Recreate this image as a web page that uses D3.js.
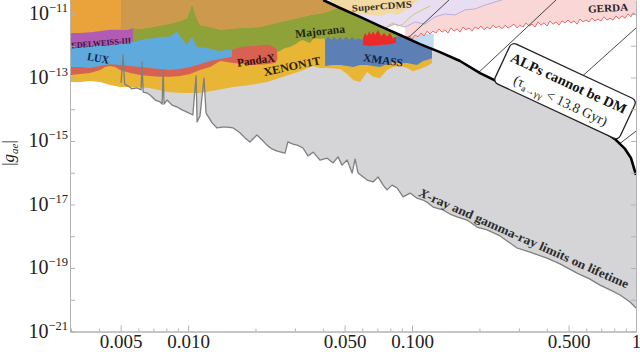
<!DOCTYPE html>
<html>
<head>
<meta charset="utf-8">
<script src="https://cdn.jsdelivr.net/npm/d3@7"></script>
<style>
  html, body { margin: 0; padding: 0; background: #fff; }
  svg { display: block; font-family: "Liberation Serif", "DejaVu Serif", serif; }
</style>
</head>
<body>
<svg id="chart" width="640" height="360"></svg>
<script>
// every curve is [mass, log10|g_ae|]

const grayLimit = [
  [0.00502, -13.17], [0.00513, -12.29], [0.00521, -13.21], [0.00540, -13.27], [0.00562, -13.36],
  [0.00592, -13.33], [0.00617, -13.39], [0.00623, -12.51], [0.00630, -13.46], [0.00656, -13.49],
  [0.00676, -13.55], [0.00713, -13.71], [0.00750, -13.77], [0.00766, -13.84], [0.00774, -12.76],
  [0.00781, -13.84], [0.00806, -13.71], [0.00848, -13.87], [0.00893, -13.93], [0.00940, -14.02],
  [0.00990, -14.09], [0.0105, -14.18], [0.01086, -12.95], [0.01097, -14.40], [0.0113, -14.21],
  [0.01178, -13.02], [0.01203, -14.12], [0.0128, -14.43], [0.01347, -14.59], [0.01419, -14.56],
  [0.01493, -14.56], [0.0159, -14.59], [0.0171, -14.75], [0.0180, -14.91], [0.0189, -15.03],
  [0.0203, -14.81], [0.0214, -14.97], [0.0225, -15.13], [0.0237, -15.25], [0.0250, -15.32],
  [0.0271, -15.38], [0.0279, -15.03], [0.0294, -15.10], [0.0307, -15.13], [0.0326, -15.22],
  [0.0343, -15.47], [0.0362, -15.35], [0.0388, -15.60], [0.0418, -15.54], [0.0444, -15.69],
  [0.0467, -15.50], [0.0487, -15.76], [0.0513, -15.60], [0.0540, -16.01], [0.0557, -15.57],
  [0.0574, -16.01], [0.0598, -16.10], [0.0630, -16.23], [0.0670, -16.29], [0.0705, -16.13],
  [0.0743, -16.39], [0.0773, -16.54], [0.0814, -16.39], [0.0857, -16.48], [0.0912, -16.76],
  [0.0980, -16.64], [0.1052, -16.80], [0.1120, -16.86], [0.1179, -16.95], [0.1241, -17.08],
  [0.1375, -17.17], [0.1478, -17.30], [0.1589, -17.39], [0.1761, -17.49], [0.1950, -17.71],
  [0.2163, -17.80], [0.2472, -17.99], [0.2944, -18.37], [0.3362, -18.50], [0.4006, -18.69],
  [0.4577, -18.87], [0.5455, -19.16], [0.6233, -19.35], [0.6909, -19.54], [0.7658, -19.69],
  [0.8489, -19.85], [0.9409, -20.07], [1.0, -20.26]
];

const alpDmBound = [
  [0.0401, -10.56], [0.0477, -10.81], [0.0586, -11.09], [0.0719, -11.38], [0.0884, -11.66],
  [0.1086, -11.95], [0.1333, -12.20], [0.1638, -12.48], [0.2012, -12.86], [0.2472, -13.17],
  [0.3035, -13.46], [0.3727, -13.74], [0.4577, -13.99], [0.5623, -14.28], [0.6909, -14.62],
  [0.8063, -14.94], [0.8937, -15.25], [0.950, -15.54], [0.9705, -15.76], [1.0, -16.07]
];

const xenon1t = [
  [0.00297, -13.14], [0.00330, -13.14], [0.00365, -13.11], [0.00405, -13.14], [0.00449, -13.24],
  [0.00497, -13.30], [0.00568, -13.30], [0.00676, -13.33], [0.00806, -13.46], [0.00950, -13.49],
  [0.0113, -13.49], [0.01347, -13.39], [0.0159, -13.30], [0.0189, -13.24], [0.0225, -13.14],
  [0.0266, -12.98], [0.0316, -12.80], [0.0362, -12.64], [0.0388, -12.70], [0.0418, -12.70],
  [0.0477, -12.73], [0.0513, -12.89], [0.0546, -13.08], [0.0586, -13.14], [0.0630, -12.83],
  [0.0670, -12.98], [0.0719, -13.02], [0.0773, -12.76], [0.0822, -12.67], [0.0884, -12.64],
  [0.0950, -12.70], [0.1010, -12.80], [0.1086, -12.73], [0.1167, -12.64], [0.1228, -12.54]
];

const pandax = [
  [0.00297, -12.92], [0.00330, -12.89], [0.00365, -12.86], [0.00405, -12.76], [0.00426, -12.67],
  [0.00449, -12.64], [0.00472, -12.67], [0.00497, -12.76], [0.00551, -12.86], [0.00611, -12.92],
  [0.00676, -12.95], [0.00750, -12.98], [0.00831, -12.98], [0.00921, -12.95], [0.0102, -12.89],
  [0.0113, -12.76], [0.01254, -12.67], [0.0139, -12.48], [0.0159, -12.54], [0.0195, -12.61],
  [0.0221, -12.58], [0.0245, -12.54], [0.0250, -12.45]
];

const lux = [
  [0.00297, -12.67], [0.00330, -12.67], [0.00365, -12.70], [0.00405, -12.64], [0.00449, -12.58],
  [0.00497, -12.61], [0.00551, -12.64], [0.00611, -12.67], [0.00676, -12.70], [0.00750, -12.73],
  [0.00831, -12.76], [0.00921, -12.73], [0.0102, -12.67], [0.0113, -12.58], [0.01254, -12.48],
  [0.0139, -12.42], [0.0157, -12.35]
];

const edelweiss = [
  [0.00297, -12.04], [0.00330, -12.04], [0.00377, -12.01], [0.00449, -11.98], [0.00497, -11.95],
  [0.00551, -11.88], [0.00580, -11.85]
];

const xmass = [
  [0.0409, -12.64], [0.0444, -12.61], [0.0477, -12.61], [0.0513, -12.64], [0.0546, -12.67],
  [0.0586, -12.61], [0.0630, -12.61], [0.0670, -12.64], [0.0719, -12.67], [0.0773, -12.58],
  [0.0822, -12.51], [0.0884, -12.54], [0.0950, -12.54], [0.1010, -12.58], [0.1052, -12.61],
  [0.1120, -12.48], [0.1167, -12.45], [0.1228, -12.39]
];

const redBand = [
  [0.0604, -11.98], [0.0649, -12.01], [0.0719, -11.98], [0.0797, -11.95], [0.0848, -11.91]
];

const majorana = [
  [0.00568, -11.88], [0.00592, -11.85], [0.00643, -11.79], [0.00698, -11.76], [0.00774, -11.72],
  [0.00831, -11.72], [0.00875, -11.60], [0.00893, -11.54], [0.00921, -11.69], [0.00950, -11.82],
  [0.00990, -11.98], [0.0102, -11.82], [0.0104, -11.72], [0.0107, -11.88], [0.01097, -12.04],
  [0.01216, -12.07], [0.0132, -12.13], [0.0139, -12.17], [0.01463, -12.13], [0.0157, -12.13],
  [0.0162, -12.10], [0.0171, -12.04], [0.0195, -12.01], [0.0221, -11.98], [0.0232, -11.98],
  [0.0245, -12.07], [0.0252, -12.20], [0.0271, -12.07], [0.0285, -12.04], [0.0301, -11.95],
  [0.0316, -11.85], [0.0326, -11.82], [0.0340, -11.88], [0.0351, -11.91], [0.0362, -11.79],
  [0.0377, -11.76], [0.0388, -11.79], [0.0405, -11.76], [0.0409, -11.82], [0.0422, -11.72],
  [0.0435, -11.82], [0.0449, -11.72], [0.0463, -11.82], [0.0477, -11.72], [0.0492, -11.82],
  [0.0508, -11.72], [0.0524, -11.82], [0.0540, -11.72], [0.0557, -11.82], [0.0574, -11.76],
  [0.0598, -11.82], [0.0604, -11.76], [0.0617, -11.60], [0.0630, -11.69], [0.0643, -11.54],
  [0.0656, -11.66], [0.0670, -11.54], [0.0684, -11.66], [0.0705, -11.50], [0.0727, -11.69],
  [0.0750, -11.60], [0.0773, -11.72], [0.0797, -11.60], [0.0822, -11.76], [0.0848, -11.72],
  [0.0884, -11.69], [0.0980, -11.66], [0.1143, -11.50], [0.1333, -11.19]
];

const orangeLimit = [
  [0.00297, -11.60], [0.00330, -11.60], [0.00377, -11.57], [0.00449, -11.50], [0.00535, -11.50],
  [0.00568, -11.44], [0.00611, -11.47], [0.00698, -11.41], [0.00774, -11.35], [0.00857, -11.28],
  [0.00921, -11.22], [0.00990, -11.13], [0.0102, -10.87], [0.0104, -10.69], [0.01063, -10.87],
  [0.01086, -11.09], [0.0113, -11.35], [0.01254, -11.41], [0.0139, -11.50], [0.0171, -11.44],
  [0.0210, -11.41], [0.0257, -11.25], [0.0307, -11.13], [0.0351, -11.03], [0.0401, -10.97],
  [0.0444, -10.87], [0.0502, -10.72], [0.0529, -10.56]
];

const gerda = [
  [0.0931, -11.76], [0.0970, -11.69], [0.1000, -11.79], [0.1031, -11.66], [0.1064, -11.72],
  [0.1097, -11.60], [0.1131, -11.69], [0.1167, -11.54], [0.1203, -11.63], [0.1241, -11.54],
  [0.1279, -11.60], [0.1319, -11.47], [0.1361, -11.57], [0.1403, -11.50], [0.1447, -11.60],
  [0.1493, -11.44], [0.1540, -11.54], [0.1589, -11.47], [0.1638, -11.57], [0.1689, -11.41],
  [0.1742, -11.50], [0.1797, -11.44], [0.1853, -11.54], [0.1911, -11.41], [0.1971, -11.47],
  [0.2032, -11.38], [0.2096, -11.50], [0.2163, -11.41], [0.2230, -11.47], [0.2300, -11.35],
  [0.2371, -11.44], [0.2445, -11.38], [0.2522, -11.47], [0.2603, -11.35], [0.2683, -11.44],
  [0.2767, -11.38], [0.2853, -11.32], [0.2944, -11.44], [0.3035, -11.35], [0.3130, -11.41],
  [0.3228, -11.28], [0.3329, -11.38], [0.3433, -11.32], [0.3540, -11.41], [0.3652, -11.25],
  [0.3766, -11.35], [0.3884, -11.28], [0.4006, -11.38], [0.4130, -11.22], [0.4261, -11.32],
  [0.4393, -11.25], [0.4532, -11.35], [0.4673, -11.22], [0.4819, -11.28], [0.4970, -11.19],
  [0.5126, -11.28], [0.5286, -11.22], [0.5455, -11.32], [0.5623, -11.16], [0.5799, -11.25],
  [0.5980, -11.19], [0.6168, -11.25], [0.6361, -11.13], [0.6562, -11.22], [0.6767, -11.16],
  [0.6978, -11.22], [0.7196, -11.09], [0.7422, -11.19], [0.7658, -11.13], [0.7896, -11.19],
  [0.8141, -11.06], [0.8395, -11.16], [0.8660, -11.06], [0.8937, -11.13], [0.9211, -11.00],
  [0.950, -11.09], [0.9705, -10.97], [1.0, -11.03]
];

const lavender = [
  [0.0477, -11.19], [0.0586, -11.38], [0.0684, -11.50], [0.0757, -11.44], [0.0839, -11.32],
  [0.0931, -11.41], [0.1031, -11.25], [0.1143, -11.32], [0.1267, -11.09], [0.1403, -11.00],
  [0.1556, -11.03], [0.1725, -10.87], [0.1911, -10.84], [0.2118, -10.72], [0.2349, -10.62],
  [0.2522, -10.56]
];

const superCdms = [
  [0.0430, -10.68], [0.0502, -10.90], [0.0586, -11.00], [0.0663, -11.03], [0.0719, -11.06],
  [0.0797, -10.97], [0.0866, -11.03], [0.0931, -10.88], [0.1000, -10.72], [0.1064, -10.56]
];

const superCdmsEdge = [
  [0.0705, -11.47], [0.0743, -11.54], [0.0781, -11.38], [0.0822, -11.28], [0.0866, -11.38],
  [0.0912, -11.32], [0.0960, -11.16], [0.1010, -11.03], [0.1064, -10.94], [0.1131, -10.84],
  [0.1203, -10.75]
];

const lightBlueBox = [[0.093, -11.63], [0.125, -11.63], [0.125, -12.29], [0.093, -12.29]];

const lifetimeLines = [
  [[0.0960, -11.76], [0.1462, -10.56]],
  [[0.1971, -12.86], [0.4393, -10.56]],
  [[0.4089, -13.90], [1.0, -11.44]],
  [[0.8395, -15.10], [1.0, -14.69]]
];

const xMajorTicks = [0.005, 0.01, 0.05, 0.1, 0.5, 1];
const xTickLabels = ["0.005", "0.010", "0.050", "0.100", "0.500", "1"];
const xMinorTicks = [0.003, 0.004, 0.006, 0.007, 0.008, 0.009, 0.02, 0.03, 0.04, 0.06, 0.07, 0.08, 0.09,
  0.2, 0.3, 0.4, 0.6, 0.7, 0.8, 0.9];
const yTickExps = [-21, -20, -19, -18, -17, -16, -15, -14, -13, -12, -11];
const yLabelExps = [-21, -19, -17, -15, -13, -11];

const regionLabels = [
  { text: "EDELWEISS-III", m: 0.00409, lg: -11.91, angle: -5, size: 8.5, len: 60, color: "#3a1238" },
  { text: "LUX", m: 0.00397, lg: -12.39, angle: 10, size: 11, len: 22, color: "#0e2448" },
  { text: "Majorana", m: 0.0388, lg: -11.54, angle: -6, size: 11.5, len: 50, color: "#1f260c" },
  { text: "PandaX", m: 0.0201, lg: -12.45, angle: -8, size: 11.5, len: 38, color: "#3a0e0a" },
  { text: "XENON1T", m: 0.0291, lg: -12.64, angle: -12, size: 11.5, len: 58, color: "#2a1e04" },
  { text: "XMASS", m: 0.0743, lg: -12.45, angle: 8, size: 11, len: 40, color: "#0e1d3c" },
  { text: "GERDA", m: 0.750, lg: -10.81, angle: -3, size: 10.5, len: 40, color: "#2a2424" }
];

const svg = d3.select("#chart");

const x = d3.scaleLog().domain([0.00297, 1]).range([70, 636]);
const y = d3.scaleLog().domain([1e-21, 2.76e-11]).range([331.5, 0]);
const topE = Math.log10(y.domain()[1]);

const px = d => x(d[0]);
const py = d => y(Math.pow(10, d[1]));
const line = d3.line().x(px).y(py);
const shape = pts => line(pts) + "Z";
const fromTop = c => [[c[0][0], topE], ...c, [c[c.length - 1][0], topE]];

const grayArea = [[grayLimit[0][0], topE], ...grayLimit, ...alpDmBound.slice().reverse()];

const defs = svg.append("defs");
defs.append("clipPath").attr("id", "plot")
  .append("rect").attr("x", 70).attr("y", 0).attr("width", 566).attr("height", 331.5);
defs.append("clipPath").attr("id", "below")
  .append("path").attr("d", shape([[0.00297, topE], ...alpDmBound, [1, -21], [0.00297, -21]]));
defs.append("clipPath").attr("id", "above")
  .append("path").attr("d", shape([...alpDmBound, [1, topE]]));
defs.append("clipPath").attr("id", "grayClip")
  .append("path").attr("d", shape(grayArea));

const plot = svg.append("g").attr("clip-path", "url(#plot)");

// x-ray / gamma-ray lifetime region
plot.append("path").attr("d", shape(grayArea)).attr("fill", "#d5d5d7");

// direct detection limits, below the DM line
const stack = plot.append("g").attr("clip-path", "url(#below)");
const regions = [
  [xenon1t, "#e8b534"],
  [pandax, "#d76252"],
  [lux, "#5faadc"],
  [xmass, "#5c80b6"],
  [redBand, "#ec2a2a"],
  [edelweiss, "#b05cb4"],
  [majorana, "#8fa23a"],
  [orangeLimit, "#e9a33a"]
];
regions.forEach(([c, col]) => {
  stack.append("path").attr("d", shape(fromTop(c))).attr("fill", col);
});
stack.append("g").attr("clip-path", "url(#grayClip)")
  .append("path").attr("d", shape(fromTop(orangeLimit))).attr("fill", "#cd994c");

// limits above the DM line
const upper = plot.append("g").attr("clip-path", "url(#above)");
upper.append("path").attr("d", shape(lightBlueBox)).attr("fill", "#c3dbf2");
upper.append("path").attr("d", shape(fromTop(gerda))).attr("fill", "#fad7d7");
upper.append("path").attr("d", line(gerda)).attr("fill", "none").attr("stroke", "#f06a6a").attr("stroke-width", 1);
upper.append("path").attr("d", shape(fromTop(lavender))).attr("fill", "#e8def2");
upper.append("path").attr("d", line(lavender)).attr("fill", "none").attr("stroke", "#bfaadc").attr("stroke-width", 1);
upper.append("path").attr("d", shape(fromTop(superCdms))).attr("fill", "#f2daa5");
upper.append("path").attr("d", line(superCdmsEdge)).attr("fill", "none").attr("stroke", "#cfc27a").attr("stroke-width", 1);
lifetimeLines.forEach(l => {
  upper.append("path").attr("d", line(l)).attr("fill", "none").attr("stroke", "#333").attr("stroke-width", 0.9);
});

plot.append("path").attr("d", line(grayLimit)).attr("fill", "none")
  .attr("stroke", "#7f7f7f").attr("stroke-width", 1.3).attr("stroke-linejoin", "round");

plot.append("path").attr("d", line(alpDmBound)).attr("fill", "none")
  .attr("stroke", "#000").attr("stroke-width", 2.6).attr("stroke-linejoin", "round");

// labels
regionLabels.forEach(l => {
  plot.append("text")
    .attr("transform", `translate(${x(l.m)},${y(Math.pow(10, l.lg))}) rotate(${l.angle})`)
    .attr("text-anchor", "middle").attr("dy", "0.35em")
    .attr("textLength", l.len).attr("lengthAdjust", "spacingAndGlyphs")
    .style("font-size", l.size + "px").style("font-weight", "bold")
    .attr("fill", l.color).text(l.text);
});

plot.append("text")
  .attr("transform", `translate(${x(0.054)},${y(Math.pow(10, -10.92))}) rotate(-4)`)
  .attr("textLength", 60).attr("lengthAdjust", "spacingAndGlyphs")
  .style("font-size", "9.5px").style("font-weight", "bold").attr("fill", "#3a3020")
  .text("SuperCDMS");

const xr = plot.append("text")
  .attr("transform", `translate(${x(0.3162)},${y(Math.pow(10, -18.06))}) rotate(24)`)
  .attr("text-anchor", "middle").attr("dy", "0.35em")
  .attr("textLength", 228).attr("lengthAdjust", "spacingAndGlyphs")
  .style("font-size", "12.5px").style("font-weight", "bold").attr("fill", "#2b2b2b");
xr.append("tspan").style("font-style", "italic").text("X");
xr.append("tspan").text("-ray and gamma-ray limits on lifetime");

// annotation box
const box = svg.append("g")
  .attr("transform", `translate(${x(0.4819)},${y(Math.pow(10, -13.43))}) rotate(25)`);
box.append("rect").attr("x", -69).attr("y", -22).attr("width", 138).attr("height", 44)
  .attr("rx", 5).attr("fill", "#fff").attr("stroke", "#222").attr("stroke-width", 1.3);
box.append("text").attr("y", -4).attr("text-anchor", "middle")
  .attr("textLength", 126).attr("lengthAdjust", "spacingAndGlyphs")
  .style("font-size", "14px").style("font-weight", "bold").attr("fill", "#111")
  .text("ALPs cannot be DM");
const t2 = box.append("text").attr("y", 15).attr("text-anchor", "middle")
  .style("font-size", "14px").attr("fill", "#222");
t2.append("tspan").text("(\u03c4");
t2.append("tspan").attr("dy", 3).style("font-size", "9.5px").text("a\u2192\u03b3\u03b3");
t2.append("tspan").attr("dy", -3).text(" < 13.8 Gyr)");

// axes
const axisColor = "#b3b3b3";
const styleAxis = g => {
  g.selectAll("path, line").attr("stroke", axisColor);
  g.attr("font-family", "Liberation Serif").attr("font-size", 19);
  g.selectAll("text").attr("fill", "#222");
};

svg.append("g").attr("transform", "translate(0,331.5)")
  .call(d3.axisBottom(x).tickValues(xMinorTicks).tickSize(-3).tickSizeOuter(0).tickFormat(""))
  .call(styleAxis);
svg.append("g").attr("transform", "translate(0,331.5)")
  .call(d3.axisBottom(x).tickValues(xMajorTicks).tickSize(-6).tickSizeOuter(0).tickPadding(3)
    .tickFormat(d => xTickLabels[xMajorTicks.indexOf(d)]))
  .call(styleAxis);

const yTicks = yTickExps.map(e => Math.pow(10, e));
svg.append("g").attr("transform", "translate(70,0)")
  .call(d3.axisLeft(y).tickValues(yTicks).tickSize(-5).tickSizeOuter(0).tickFormat(""))
  .call(styleAxis);
svg.append("g").attr("transform", "translate(636,0)")
  .call(d3.axisRight(y).tickValues(yTicks).tickSize(-5).tickSizeOuter(0).tickFormat(""))
  .call(styleAxis);

yLabelExps.forEach(n => {
  const t = svg.append("text").attr("x", 68).attr("y", y(Math.pow(10, n)) + 6.5)
    .attr("text-anchor", "end").attr("fill", "#222");
  t.append("tspan").style("font-size", "20px").text("10");
  t.append("tspan").attr("dy", -8).style("font-size", "12.5px").text("\u2212" + Math.abs(n));
});

const yt = svg.append("text").attr("transform", "translate(14,153) rotate(-90)")
  .attr("text-anchor", "middle").style("font-size", "17px").attr("fill", "#222");
yt.append("tspan").text("|");
yt.append("tspan").style("font-style", "italic").text("g");
yt.append("tspan").attr("dy", 4).style("font-size", "11px").style("font-style", "italic").text("ae");
yt.append("tspan").attr("dy", -4).text("|");
</script>
</body>
</html>
